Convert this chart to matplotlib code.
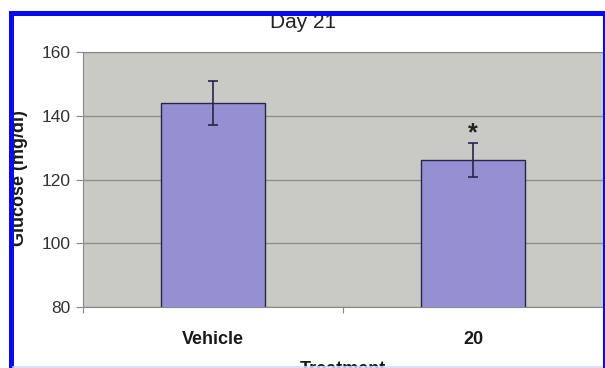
import matplotlib
matplotlib.use('Agg')
import matplotlib.pyplot as plt
from matplotlib.patches import Rectangle

# data
treatments = ['Vehicle', '20']
glucose = [144, 126]
glucose_err = [7, 5.3]
marks = ['', '*']

plt.rcParams['font.family'] = ['Liberation Sans', 'DejaVu Sans']

W, H = 605, 368
fig = plt.figure(figsize=(W / 100, H / 100), dpi=100)
fig.patch.set_facecolor('white')

# plot area in pixels: x 83..603, y 52..307
ax = fig.add_axes([83 / W, (H - 307) / H, (603 - 83) / W, (307 - 52) / H])
ax.set_facecolor('#c9c9c5')

x = list(range(len(treatments)))
ax.bar(x, glucose, width=0.40, bottom=0, color='#9690d2', edgecolor='#26264a',
       linewidth=1.0, zorder=3)
ax.errorbar(x, glucose, yerr=glucose_err, fmt='none', ecolor='#26264a',
            elinewidth=1.2, capsize=3.5, capthick=1.2, zorder=4)
for xi, v, e, m in zip(x, glucose, glucose_err, marks):
    if m:
        ax.text(xi, v + e - 0.6, m, ha='center', va='bottom', fontsize=18,
                fontweight='bold', color='#222222', zorder=5)

ax.set_ylim(80, 160)
ax.set_yticks([80, 100, 120, 140, 160])
ax.yaxis.grid(True, color='#8e8e8e', linewidth=1.0)
ax.set_axisbelow(True)
ax.tick_params(axis='y', length=5, width=0.8, color='#888888', labelsize=12.5,
               labelcolor='#333333', pad=4)

ax.set_xlim(-0.5, 1.482)
ax.set_xticks(x)
ax.set_xticklabels(treatments, fontweight='bold', fontsize=13, color='#1a1a1a')
ax.tick_params(axis='x', which='major', length=0, pad=17)
ax.set_xticks([-0.5, 0.5, 1.5], minor=True)
ax.tick_params(axis='x', which='minor', length=4, width=0.8, color='#888888')

for side in ['left', 'bottom', 'top']:
    ax.spines[side].set_color('#888888')
    ax.spines[side].set_linewidth(0.8)
ax.spines['right'].set_visible(False)

fig.text(303 / W, 1 - 23 / H, 'Day 21', ha='center', va='center', fontsize=15,
         color='#222222')
fig.text(20 / W, 1 - 178 / H, 'Glucose (mg/dl)', ha='center', va='center',
         rotation=90, fontsize=13, fontweight='bold', color='#1a1a1a')
fig.text(343 / W, 1 - 369 / H, 'Treatment', ha='center', va='center', fontsize=13,
         fontweight='bold', color='#1a1a1a')

# blue frame of the cropped figure
frame = Rectangle((10.5 / W, -0.1), (604.5 - 10.5) / W, 1.1 - 13.5 / H,
                  transform=fig.transFigure, fill=False, edgecolor='#0a0af0',
                  linewidth=3.6, zorder=10)
fig.add_artist(frame)
fig.add_artist(plt.Line2D([13 / W, 602 / W], [1.5 / H, 1.5 / H],
                          transform=fig.transFigure, color='#d8d8ff',
                          linewidth=1.2, zorder=10))

fig.savefig('out.png', dpi=100)
